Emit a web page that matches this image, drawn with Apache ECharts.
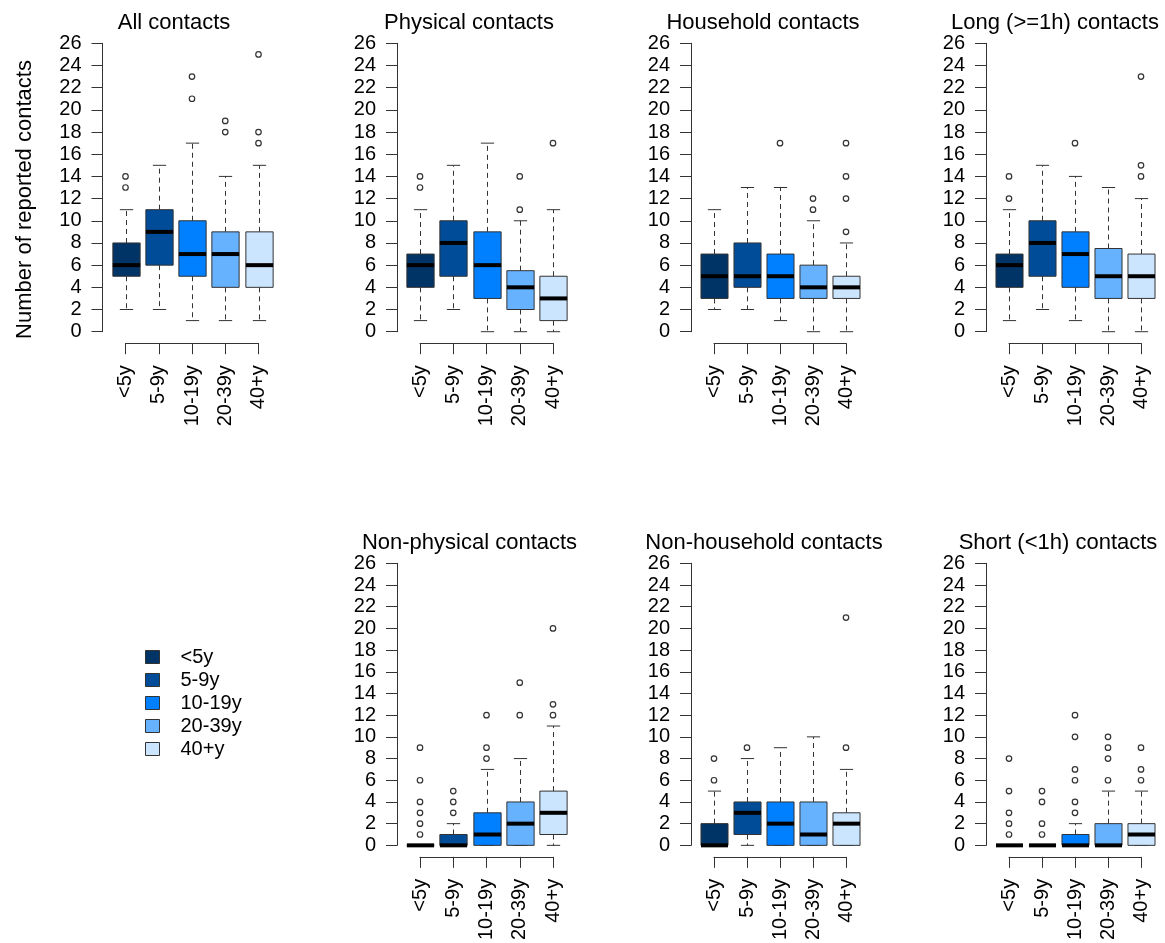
<!DOCTYPE html>
<html><head><meta charset="utf-8">
<script src="https://cdn.jsdelivr.net/npm/echarts@6/dist/echarts.min.js"></script>
<style>html,body{margin:0;padding:0;background:#fff}#c{width:1165px;height:943px}</style>
</head><body><div id="c"></div>
<script>
// ---------- DATA ----------
const CATEGORIES = ['<5y', '5-9y', '10-19y', '20-39y', '40+y'];
const COLORS = ['#003366', '#004C99', '#0080FF', '#66B2FF', '#CCE5FF'];
const Y_MIN = 0, Y_MAX = 26, Y_STEP = 2;
const Y_LABEL = 'Number of reported contacts';
const TITLES = ['All contacts', 'Physical contacts', 'Household contacts', 'Long (>=1h) contacts',
                'Non-physical contacts', 'Non-household contacts', 'Short (<1h) contacts'];

// box stats per age group: [lower whisker, Q1, median, Q3, upper whisker]
const ALL_STATS      = [[2,5,6,8,11],[2,6,9,11,15],[1,5,7,10,17],[1,4,7,9,14],[1,4,6,9,15]];
const ALL_OUT        = [[13,14],[],[21,23],[18,19],[17,18,25]];
const PHYS_STATS     = [[1,4,6,7,11],[2,5,8,10,15],[0,3,6,9,17],[0,2,4,5.5,10],[0,1,3,5,11]];
const PHYS_OUT       = [[13,14],[],[],[11,14],[17]];
const HH_STATS       = [[2,3,5,7,11],[2,4,5,8,13],[1,3,5,7,13],[0,3,4,6,10],[0,3,4,5,8]];
const HH_OUT         = [[],[],[17],[11,12],[9,12,14,17]];
const LONG_STATS     = [[1,4,6,7,11],[2,5,8,10,15],[1,4,7,9,14],[0,3,5,7.5,13],[0,3,5,7,12]];
const LONG_OUT       = [[12,14],[],[17],[],[14,15,23]];
const NONPHYS_STATS  = [[0,0,0,0,0],[0,0,0,1,2],[0,0,1,3,7],[0,0,2,4,8],[0,1,3,5,11]];
const NONPHYS_OUT    = [[1,2,3,4,6,9],[3,4,5],[8,9,12],[12,15],[12,13,20]];
const NONHH_STATS    = [[0,0,0,2,5],[0,1,3,4,8],[0,0,2,4,9],[0,0,1,4,10],[0,0,2,3,7]];
const NONHH_OUT      = [[6,8],[9],[],[],[9,21]];
const SHORT_STATS    = [[0,0,0,0,0],[0,0,0,0,0],[0,0,0,1,2],[0,0,0,2,5],[0,0,1,2,5]];
const SHORT_OUT      = [[1,2,3,5,8],[1,2,4,5],[3,4,6,7,10,12],[6,8,9,10],[6,7,9]];

const PANEL_STATS = [ALL_STATS, PHYS_STATS, HH_STATS, LONG_STATS, NONPHYS_STATS, NONHH_STATS, SHORT_STATS];
const PANEL_OUT   = [ALL_OUT, PHYS_OUT, HH_OUT, LONG_OUT, NONPHYS_OUT, NONHH_OUT, SHORT_OUT];

// ---------- LAYOUT (pixels) ----------
const LAYOUT = [
  {left:125.5, width:133, top:43.3,  height:288.4, tx:174,  ty:12},
  {left:420,   width:133, top:43.3,  height:288.4, tx:469,  ty:12},
  {left:714,   width:132, top:43.3,  height:288.4, tx:763,  ty:12},
  {left:1009,  width:132, top:43.3,  height:288.4, tx:1055, ty:12},
  {left:420,   width:133, top:563.3, height:289,   tx:469.5,ty:532},
  {left:714,   width:132, top:563.3, height:289,   tx:764,  ty:532},
  {left:1009,  width:132, top:563.3, height:289,   tx:1058, ty:532}
];
const FONT = 'Liberation Sans, Arial, Helvetica, sans-serif';
const INK = '#333';

function renderBox(params, api) {
  const i = api.value(0);
  const lo = api.value(1), q1 = api.value(2), md = api.value(3), q3 = api.value(4), hi = api.value(5);
  const band = api.size([1, 0])[0];
  const half = band * 0.41, capHalf = band * 0.2;
  const pLo = api.coord([i, lo]), pQ1 = api.coord([i, q1]), pMd = api.coord([i, md]),
        pQ3 = api.coord([i, q3]), pHi = api.coord([i, hi]);
  const x = Math.round(pLo[0]) + 0.5;
  const kids = [];
  const dash = {stroke: INK, lineWidth: 1, lineDash: [5, 4]};
  if (hi > q3) kids.push({type:'line', shape:{x1:x, y1:pQ3[1], x2:x, y2:pHi[1]}, style: dash});
  if (lo < q1) kids.push({type:'line', shape:{x1:x, y1:pQ1[1], x2:x, y2:pLo[1]}, style: dash});
  kids.push({type:'line', shape:{x1:x-capHalf, y1:pHi[1], x2:x+capHalf, y2:pHi[1]}, style:{stroke:INK, lineWidth:1}});
  kids.push({type:'line', shape:{x1:x-capHalf, y1:pLo[1], x2:x+capHalf, y2:pLo[1]}, style:{stroke:INK, lineWidth:1}});
  kids.push({type:'rect', shape:{x:x-half, y:pQ3[1], width:2*half, height:pQ1[1]-pQ3[1]},
             style:{fill: COLORS[i], stroke: INK, lineWidth: 1}});
  kids.push({type:'line', shape:{x1:x-half, y1:pMd[1], x2:x+half, y2:pMd[1]}, style:{stroke:'#000', lineWidth:4}});
  return {type:'group', children: kids};
}

const grid = [], xAxis = [], yAxis = [], series = [], title = [];
PANEL_STATS.forEach(function (stats, p) {
  const L = LAYOUT[p];
  grid.push({left: L.left, width: L.width, top: L.top, height: L.height});
  title.push({text: TITLES[p], left: L.tx, top: L.ty, textAlign: 'center', padding: 0,
              textStyle: {fontFamily: FONT, fontSize: 22, fontWeight: 'normal', color: '#000'}});
  xAxis.push({type: 'value', gridIndex: p, min: 0, max: CATEGORIES.length - 1, interval: 1,
    offset: 11.5,
    axisLine: {show: true, onZero: false, lineStyle: {color: INK, width: 1}},
    axisTick: {show: true, length: 11, lineStyle: {color: INK}},
    splitLine: {show: false},
    axisLabel: {rotate: 90, margin: 22, fontSize: 20, fontFamily: FONT, color: '#000', padding: [5, 0, 0, 0],
                formatter: function (v) { return CATEGORIES[v] || ''; }}
  });
  const ya = {type: 'value', gridIndex: p, min: Y_MIN, max: Y_MAX, interval: Y_STEP, offset: 23,
    axisLine: {show: true, onZero: false, lineStyle: {color: INK, width: 1}},
    axisTick: {show: true, length: 11, lineStyle: {color: INK}},
    splitLine: {show: false},
    axisLabel: {margin: 21, fontSize: 20, fontFamily: FONT, color: '#000'}
  };
  if (p === 0) {
    ya.name = Y_LABEL; ya.nameLocation = 'middle'; ya.nameRotate = 90; ya.nameGap = 67;
    ya.nameTextStyle = {fontSize: 22, fontFamily: FONT, color: '#000', padding: [0, 24, 0, 0]};
  }
  yAxis.push(ya);
  series.push({type: 'custom', xAxisIndex: p, yAxisIndex: p, clip: false,
    renderItem: renderBox,
    encode: {x: 0, y: [1, 2, 3, 4, 5]},
    data: stats.map(function (s, i) { return [i].concat(s); })
  });
  const outs = [];
  PANEL_OUT[p].forEach(function (arr, i) { arr.forEach(function (v) { outs.push([i, v]); }); });
  series.push({type: 'scatter', xAxisIndex: p, yAxisIndex: p, symbol: 'circle', symbolSize: 5.5,
    itemStyle: {color: '#fff', borderColor: INK, borderWidth: 1.2, opacity: 1}, data: outs, clip: false, z: 5});
});
// legend entries
CATEGORIES.forEach(function (c, i) {
  series.push({type: 'scatter', name: c, xAxisIndex: 0, yAxisIndex: 0, data: [],
               itemStyle: {color: COLORS[i], opacity: 1}});
});

const chart = echarts.init(document.getElementById('c'), null, {renderer: 'canvas'});
chart.setOption({
  animation: false,
  backgroundColor: '#fff',
  title: title,
  grid: grid, xAxis: xAxis, yAxis: yAxis, series: series,
  legend: {orient: 'vertical', left: 140, top: 642, icon: 'rect', itemWidth: 14, itemHeight: 13, itemGap: 3,
    selectedMode: false,
    data: CATEGORIES.map(function (c, i) { return {name: c, itemStyle: {color: COLORS[i], borderColor: INK, borderWidth: 1, opacity: 1}}; }),
    textStyle: {fontSize: 20, fontFamily: FONT, color: '#000', padding: [0, 0, 0, 16]}
  }
});
</script></body></html>
